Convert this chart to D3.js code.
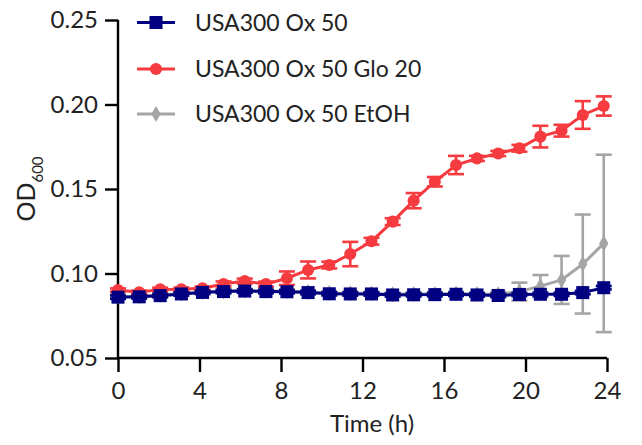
<!DOCTYPE html>
<html>
<head>
<meta charset="utf-8">
<script src="https://cdn.jsdelivr.net/npm/d3@7"></script>
<style>
  html, body { margin: 0; padding: 0; background: #fff; }
  svg { display: block; }
  text { font-family: Lato, "Open Sans", sans-serif; fill: #222; }
</style>
</head>
<body>
<svg id="chart" width="642" height="445"></svg>
<script>
// Sampling times (h)
const times = [0, 1.04, 2.07, 3.11, 4.15, 5.18, 6.22, 7.26, 8.29, 9.33, 10.37, 11.40,
               12.44, 13.48, 14.51, 15.55, 16.59, 17.62, 18.66, 19.70, 20.73, 21.77, 22.81, 23.84];

// OD600 means and errors per strain/condition
const ox50 = [0.0860, 0.0862, 0.0869, 0.0879, 0.0888, 0.0893, 0.0896, 0.0893, 0.0892, 0.0887, 0.0880, 0.0879,
              0.0879, 0.0873, 0.0874, 0.0875, 0.0877, 0.0873, 0.0870, 0.0876, 0.0877, 0.0877, 0.0887, 0.0916];
const ox50Err = [0.001, 0.001, 0.001, 0.001, 0.001, 0.001, 0.001, 0.001, 0.001, 0.001, 0.001, 0.001,
                 0.001, 0.001, 0.001, 0.001, 0.001, 0.001, 0.001, 0.001, 0.001, 0.001, 0.001, 0.001];

const ox50Glo20 = [0.0902, 0.0889, 0.0906, 0.0907, 0.0913, 0.0938, 0.0955, 0.0937, 0.0972, 0.1021, 0.1050, 0.1115,
                   0.1191, 0.1307, 0.1431, 0.1543, 0.1642, 0.1681, 0.1710, 0.1741, 0.1810, 0.1845, 0.1938, 0.1991];
const ox50Glo20Err = [0.001, 0.001, 0.001, 0.001, 0.001, 0.0015, 0.0015, 0.0015, 0.0040, 0.0050, 0.0020, 0.0072,
                      0.0020, 0.0020, 0.0045, 0.0028, 0.0054, 0.0015, 0.0015, 0.0020, 0.0064, 0.0035, 0.0082, 0.0057];

const ox50EtOH = [0.0864, 0.0866, 0.0873, 0.0882, 0.0891, 0.0896, 0.0899, 0.0897, 0.0895, 0.0891, 0.0884, 0.0883,
                  0.0882, 0.0877, 0.0878, 0.0879, 0.0881, 0.0878, 0.0877, 0.0893, 0.0925, 0.0962, 0.1056, 0.1178];
const ox50EtOHErr = [0.001, 0.001, 0.001, 0.001, 0.001, 0.001, 0.001, 0.001, 0.001, 0.001, 0.001, 0.001,
                     0.001, 0.001, 0.001, 0.001, 0.001, 0.001, 0.0015, 0.0053, 0.0066, 0.0142, 0.0293, 0.0525];

const seriesNames = ["USA300 Ox 50", "USA300 Ox 50 Glo 20", "USA300 Ox 50 EtOH"];
const xTicks = [0, 4, 8, 12, 16, 20, 24];
const yTicks = [0.05, 0.10, 0.15, 0.20, 0.25];

const series = [
  { name: seriesNames[0], values: ox50,      errors: ox50Err,      color: "#000080", symbol: d3.symbolSquare,  size: 170 },
  { name: seriesNames[1], values: ox50Glo20, errors: ox50Glo20Err, color: "#f53b3f", symbol: d3.symbolCircle,  size: 115 },
  { name: seriesNames[2], values: ox50EtOH,  errors: ox50EtOHErr,  color: "#a5a5a8", symbol: d3.symbolDiamond, size: 75 }
];

const svg = d3.select("#chart");
const x = d3.scaleLinear().domain([0, 24]).range([118, 607]);
const y = d3.scaleLinear().domain([0.05, 0.25]).range([358, 20]);

// Axes
const xAxis = svg.append("g").attr("transform", "translate(0,358)")
  .call(d3.axisBottom(x).tickValues(xTicks).tickSize(14).tickPadding(10).tickFormat(d3.format("d")));
const yAxis = svg.append("g").attr("transform", "translate(118,0)")
  .call(d3.axisLeft(y).tickValues(yTicks).tickSize(13).tickPadding(7).tickFormat(d3.format(".2f")));

[xAxis, yAxis].forEach(g => {
  g.select(".domain").attr("stroke", "#000").attr("stroke-width", 2.4);
  g.selectAll(".tick line").attr("stroke", "#000").attr("stroke-width", 2.4);
  g.selectAll(".tick text").attr("font-size", 24).attr("fill", "#222")
    .attr("font-family", "Lato, 'Open Sans', sans-serif");
});
// Replace domain paths with plain lines (no outer ticks)
xAxis.select(".domain").attr("d", `M${x(0)},0H${x(24)}`);
yAxis.select(".domain").attr("d", `M0,${y(0.25)}V${y(0.05)}`);

// Axis titles
svg.append("text")
  .attr("x", 372).attr("y", 432)
  .attr("text-anchor", "middle")
  .attr("font-size", 24)
  .text("Time (h)");

const yTitle = svg.append("text")
  .attr("transform", "translate(35,189) rotate(-90)")
  .attr("text-anchor", "middle")
  .attr("font-size", 25);
yTitle.append("tspan").text("OD");
yTitle.append("tspan").attr("font-size", 15).attr("dy", 8).text("600");

// Series, drawn last-to-first so the first legend entry sits on top
const plot = svg.append("g");
const line = d3.line().x((d, i) => x(times[i])).y(d => y(d));

series.slice().reverse().forEach(s => {
  const g = plot.append("g");
  // error bars
  const eb = g.selectAll("g.err").data(s.values).join("g").attr("class", "err")
    .attr("stroke", s.color).attr("stroke-width", 2.6).attr("fill", "none");
  eb.append("line")
    .attr("x1", (d, i) => x(times[i])).attr("x2", (d, i) => x(times[i]))
    .attr("y1", (d, i) => y(d + s.errors[i])).attr("y2", (d, i) => y(d - s.errors[i]));
  eb.append("line")
    .attr("x1", (d, i) => x(times[i]) - 8).attr("x2", (d, i) => x(times[i]) + 8)
    .attr("y1", (d, i) => y(d + s.errors[i])).attr("y2", (d, i) => y(d + s.errors[i]));
  eb.append("line")
    .attr("x1", (d, i) => x(times[i]) - 8).attr("x2", (d, i) => x(times[i]) + 8)
    .attr("y1", (d, i) => y(d - s.errors[i])).attr("y2", (d, i) => y(d - s.errors[i]));
  // connecting line
  g.append("path").datum(s.values)
    .attr("d", line).attr("fill", "none")
    .attr("stroke", s.color).attr("stroke-width", 3);
  // markers
  g.selectAll("path.pt").data(s.values).join("path").attr("class", "pt")
    .attr("transform", (d, i) => `translate(${x(times[i])},${y(d)})`)
    .attr("d", d3.symbol().type(s.symbol).size(s.size))
    .attr("fill", s.color);
});

// Legend
const legend = svg.append("g");
const rowY = [22.5, 69, 114];
series.forEach((s, k) => {
  const r = legend.append("g").attr("transform", `translate(0,${rowY[k]})`);
  r.append("line").attr("x1", 137).attr("x2", 175).attr("y1", 0).attr("y2", 0)
    .attr("stroke", s.color).attr("stroke-width", 3);
  r.append("path").attr("transform", "translate(156,0)")
    .attr("d", d3.symbol().type(s.symbol).size(s.size)).attr("fill", s.color);
  r.append("text").attr("x", 195).attr("y", 0).attr("dy", "0.35em")
    .attr("font-size", 23).text(s.name);
});
</script>
</body>
</html>
